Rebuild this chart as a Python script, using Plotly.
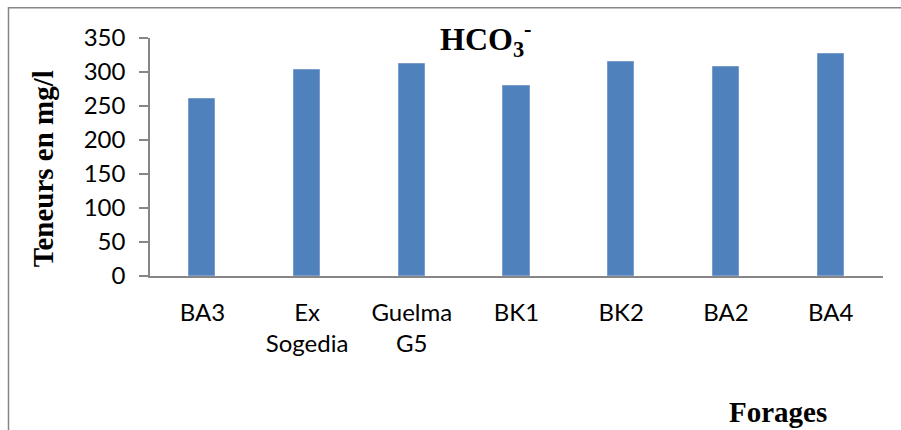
import plotly.graph_objects as go

# Forages and bicarbonate content (mg/l)
forages = ["BA3", "Ex<br>Sogedia", "Guelma<br>G5", "BK1", "BK2", "BA2", "BA4"]
hco3 = [260, 303, 312, 279, 315, 308, 327]
y_ticks = [0, 50, 100, 150, 200, 250, 300, 350]

W, H = 901, 430
L, R, T, B = 150, 18, 37.7, 154.3
pw, ph = W - L - R, H - T - B


def px(x):
    return (x - L) / pw


def py(y):
    return (H - B - y) / ph


axis_grey = "#868686"
tick_font = dict(family="Lato, Carlito, Calibri, sans-serif", size=24, color="#000000")
serif_bold = "Liberation Serif, Times New Roman, serif"

fig = go.Figure(
    go.Bar(
        x=forages,
        y=hco3,
        width=0.25,
        marker=dict(color="#4F81BD", line=dict(color="#7A9CCB", width=1)),
    )
)

fig.update_layout(
    width=W,
    height=H,
    margin=dict(l=L, r=R, t=T, b=B, pad=0),
    paper_bgcolor="white",
    plot_bgcolor="white",
    showlegend=False,
    bargap=0,
)

fig.update_xaxes(
    showline=True,
    linecolor=axis_grey,
    linewidth=1.5,
    showgrid=False,
    ticks="",
    tickfont=tick_font,
    ticklabelstandoff=14,
)
fig.update_yaxes(
    range=[0, 350],
    tickvals=y_ticks,
    showline=True,
    linecolor=axis_grey,
    linewidth=1.5,
    showgrid=False,
    zeroline=False,
    ticks="outside",
    ticklen=9,
    tickcolor=axis_grey,
    tickwidth=1.5,
    tickfont=tick_font,
    ticklabelstandoff=9,
)

# Outer chart frame
fig.add_shape(
    type="rect",
    xref="paper",
    yref="paper",
    x0=px(8.5),
    x1=px(910),
    y0=py(440),
    y1=py(7.5),
    line=dict(color=axis_grey, width=1.5),
    fillcolor="rgba(0,0,0,0)",
    layer="below",
)

# Chart title
fig.add_annotation(
    text="HCO<sub>3</sub><sup>-</sup>",
    xref="paper",
    yref="paper",
    x=px(486),
    y=py(39),
    showarrow=False,
    xanchor="center",
    yanchor="middle",
    font=dict(family=serif_bold, size=32, color="#000000", weight="bold"),
)

# Y axis title
fig.add_annotation(
    text="Teneurs en mg/l",
    xref="paper",
    yref="paper",
    x=px(43),
    y=py(169),
    showarrow=False,
    textangle=-90,
    xanchor="center",
    yanchor="middle",
    font=dict(family=serif_bold, size=29, color="#000000", weight="bold"),
)

# X axis title
fig.add_annotation(
    text="Forages",
    xref="paper",
    yref="paper",
    x=px(778),
    y=py(412),
    showarrow=False,
    xanchor="center",
    yanchor="middle",
    font=dict(family=serif_bold, size=29, color="#000000", weight="bold"),
)

fig.write_html("out.html")
